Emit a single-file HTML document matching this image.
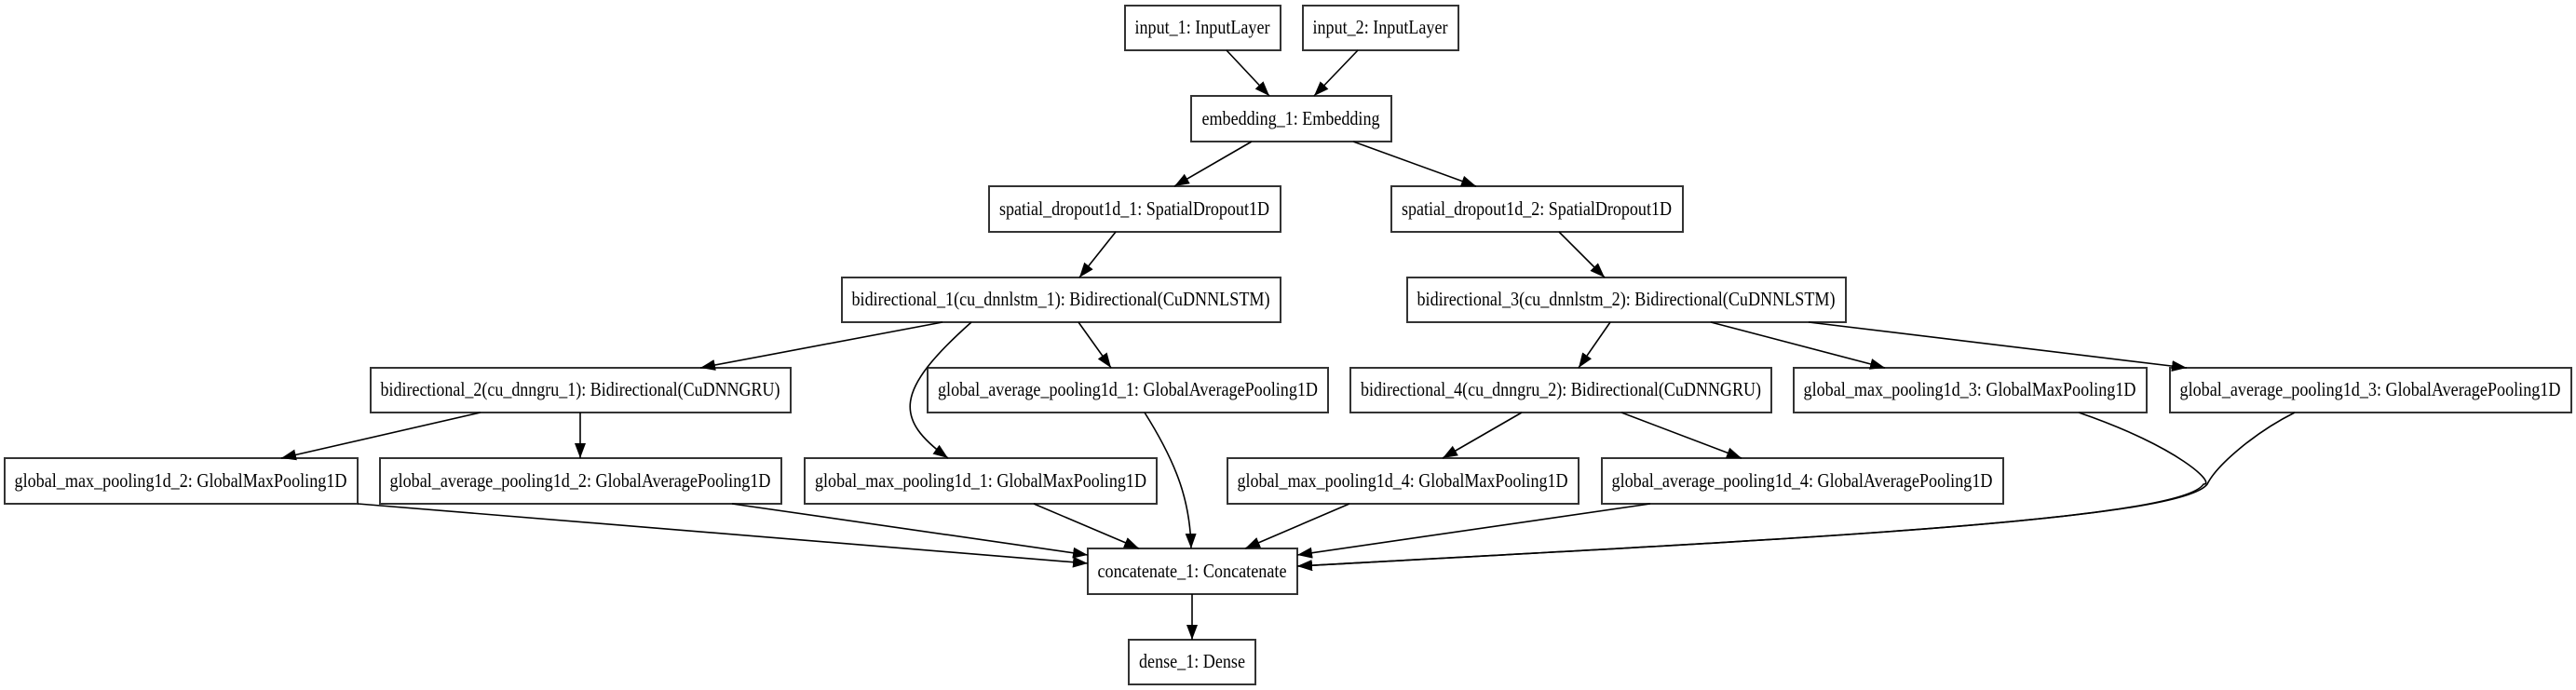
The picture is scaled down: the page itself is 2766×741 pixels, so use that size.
<!DOCTYPE html>
<html><head><meta charset="utf-8"><style>html,body{margin:0;padding:0;background:#fff}svg{display:block}</style></head>
<body>
<svg width="2766" height="741" viewBox="0 0 2766 741" xmlns="http://www.w3.org/2000/svg">
<defs>
<marker id="a" markerUnits="userSpaceOnUse" markerWidth="18" markerHeight="14" refX="16" refY="6" orient="auto">
<path d="M0,0 L16,6 L0,12 Z" fill="#000"/>
</marker>
</defs>
<g fill="#fff" stroke="#333" stroke-width="2">
<rect x="1208" y="6" width="167" height="48"/>
<rect x="1399" y="6" width="167" height="48"/>
<rect x="1279" y="103" width="215" height="49"/>
<rect x="1062" y="200" width="313" height="49"/>
<rect x="1494" y="200" width="313" height="49"/>
<rect x="904" y="298" width="471" height="48"/>
<rect x="1511" y="298" width="471" height="48"/>
<rect x="398" y="395" width="451" height="48"/>
<rect x="996" y="395" width="430" height="48"/>
<rect x="1450" y="395" width="452" height="48"/>
<rect x="1926" y="395" width="379" height="48"/>
<rect x="2330" y="395" width="431" height="48"/>
<rect x="5" y="492" width="379" height="49"/>
<rect x="408" y="492" width="431" height="49"/>
<rect x="864" y="492" width="378" height="49"/>
<rect x="1318" y="492" width="377" height="49"/>
<rect x="1720" y="492" width="431" height="49"/>
<rect x="1168" y="589" width="225" height="49"/>
<rect x="1212" y="687" width="136" height="48"/>
</g>
<g font-family="Liberation Serif, serif" font-size="21" text-anchor="middle" fill="#000">
<text x="1291" y="36" textLength="145" lengthAdjust="spacingAndGlyphs">input_1: InputLayer</text>
<text x="1482" y="36" textLength="145" lengthAdjust="spacingAndGlyphs">input_2: InputLayer</text>
<text x="1386" y="134" textLength="191" lengthAdjust="spacingAndGlyphs">embedding_1: Embedding</text>
<text x="1218" y="231" textLength="290" lengthAdjust="spacingAndGlyphs">spatial_dropout1d_1: SpatialDropout1D</text>
<text x="1650" y="231" textLength="290" lengthAdjust="spacingAndGlyphs">spatial_dropout1d_2: SpatialDropout1D</text>
<text x="1139" y="328" textLength="449" lengthAdjust="spacingAndGlyphs">bidirectional_1(cu_dnnlstm_1): Bidirectional(CuDNNLSTM)</text>
<text x="1746" y="328" textLength="449" lengthAdjust="spacingAndGlyphs">bidirectional_3(cu_dnnlstm_2): Bidirectional(CuDNNLSTM)</text>
<text x="623" y="425" textLength="429" lengthAdjust="spacingAndGlyphs">bidirectional_2(cu_dnngru_1): Bidirectional(CuDNNGRU)</text>
<text x="1211" y="425" textLength="408" lengthAdjust="spacingAndGlyphs">global_average_pooling1d_1: GlobalAveragePooling1D</text>
<text x="1676" y="425" textLength="430" lengthAdjust="spacingAndGlyphs">bidirectional_4(cu_dnngru_2): Bidirectional(CuDNNGRU)</text>
<text x="2115" y="425" textLength="357" lengthAdjust="spacingAndGlyphs">global_max_pooling1d_3: GlobalMaxPooling1D</text>
<text x="2545" y="425" textLength="409" lengthAdjust="spacingAndGlyphs">global_average_pooling1d_3: GlobalAveragePooling1D</text>
<text x="194" y="523" textLength="357" lengthAdjust="spacingAndGlyphs">global_max_pooling1d_2: GlobalMaxPooling1D</text>
<text x="623" y="523" textLength="409" lengthAdjust="spacingAndGlyphs">global_average_pooling1d_2: GlobalAveragePooling1D</text>
<text x="1053" y="523" textLength="356" lengthAdjust="spacingAndGlyphs">global_max_pooling1d_1: GlobalMaxPooling1D</text>
<text x="1506" y="523" textLength="355" lengthAdjust="spacingAndGlyphs">global_max_pooling1d_4: GlobalMaxPooling1D</text>
<text x="1935" y="523" textLength="409" lengthAdjust="spacingAndGlyphs">global_average_pooling1d_4: GlobalAveragePooling1D</text>
<text x="1280" y="620" textLength="203" lengthAdjust="spacingAndGlyphs">concatenate_1: Concatenate</text>
<text x="1280" y="717" textLength="114" lengthAdjust="spacingAndGlyphs">dense_1: Dense</text>
</g>
<g fill="none" stroke="#000" stroke-width="1.6" marker-end="url(#a)">
<path d="M1317,54 L1363,103"/>
<path d="M1458,54 L1411,103"/>
<path d="M1344,152 L1261,200"/>
<path d="M1453,152 L1585,200"/>
<path d="M1198,249 L1159,298"/>
<path d="M1674,249 L1723,298"/>
<path d="M1012,346 L752,395"/>
<path d="M1043,346 C960,420 960,450 1018,492"/>
<path d="M1158,346 L1193,395"/>
<path d="M516,443 L302,492"/>
<path d="M623,443 L623,492"/>
<path d="M1229,443 C1265,500 1278,540 1279,589"/>
<path d="M1729,346 L1695,395"/>
<path d="M1837,346 L2024,395"/>
<path d="M1942,346 L2348,395"/>
<path d="M1634,443 L1549,492"/>
<path d="M1741,443 L1870,492"/>
<path d="M384,541 L1168,605"/>
<path d="M786,541 L1168,596"/>
<path d="M1110,541 L1223,589"/>
<path d="M1449,541 L1337,589"/>
<path d="M1772,541 L1393,596"/>
<path d="M2232,443 C2340,480 2380,520 2366,520 C2340,560 1900,580 1393,608"/>
<path d="M2464,443 C2420,465 2380,500 2370,520 C2340,560 1900,580 1393,608"/>
<path d="M1280,638 L1280,687"/>
</g>
</svg>
</body></html>
